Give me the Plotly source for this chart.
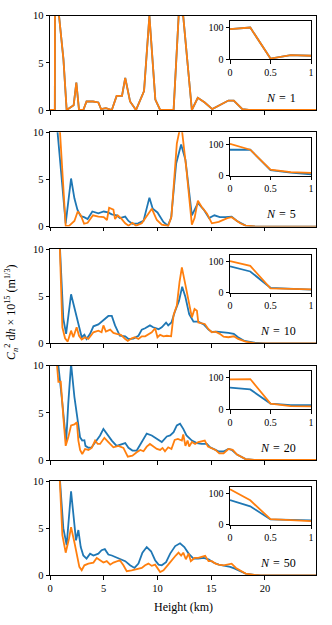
import plotly.graph_objects as go

# ---------------- data ----------------
# Panel N=1 (blue and orange overlap)
p1_x = [0, 0.45, 0.5, 0.75, 1.25, 1.55, 2.2, 2.45, 2.7, 3.1, 3.4, 4.0, 4.5, 4.75, 5.2, 5.75,
        6.2, 6.7, 7.0, 7.45, 8.0, 8.75, 9.25, 9.8, 10.25, 11.5, 12.0, 12.4, 13.2, 13.75, 14.4,
        15.1, 16.6, 17.1, 17.9, 18.5, 24.75]
p1_blue = [0, 0, 40, 11, 5.4, 0, 0.5, 2.9, 0, 0, 0.9, 0.9, 0.8, 0.1, 0.2, 0,
           1.5, 1.5, 3.4, 0.9, 0, 2.0, 10.0, 1.1, 0, 0, 10.6, 9.9, 0, 1.3, 0.8,
           0.1, 1.0, 1.0, 0.1, 0, 0]
p1_orange = [0, 0, 40, 11, 5.4, 0, 0.5, 2.9, 0, 0, 0.9, 0.9, 0.8, 0.1, 0.2, 0,
             1.5, 1.5, 3.4, 0.9, 0, 2.0, 10.0, 1.1, 0, 0, 10.6, 9.9, 0, 1.3, 0.8,
             0.1, 1.0, 1.0, 0.1, 0, 0]

# Panel N=5
p2_bx = [0.25, 0.5, 1.46, 1.96, 2.27, 2.55, 2.86, 3.17, 3.5, 3.94, 4.5, 5.0, 5.4, 5.75, 6.2, 6.5,
         7.0, 7.3, 7.67, 8.2, 8.7, 9.25, 9.56, 10.0, 10.55, 10.96, 11.27, 11.74, 12.2, 12.6, 13.2,
         13.76, 14.3, 14.8, 15.3, 15.8, 16.3, 16.9, 17.4, 18.2, 19.0, 24.75]
p2_blue = [20, 12.6, 0.35, 5.1, 3.0, 1.8, 1.1, 1.0, 0.8, 1.6, 1.4, 1.6, 1.5, 1.3, 1.2, 0.9,
           1.06, 0.6, 0.3, 0.35, 0.6, 3.07, 1.9, 1.5, 0.5, 0.1, 0.9, 6.7, 8.7, 7.1, 1.2,
           2.5, 1.8, 0.9, 1.2, 1.0, 1.0, 1.06, 0.6, 0.1, 0.02, 0]
p2_ox = [0.5, 0.75, 1.46, 1.77, 2.27, 2.58, 2.86, 3.17, 3.5, 4.0, 4.5, 5.0, 5.3, 5.5, 5.9, 6.05,
         6.3, 6.6, 7.0, 7.3, 7.67, 8.0, 8.54, 9.0, 9.47, 9.94, 10.4, 11.0, 11.3, 11.8, 12.2, 12.7,
         13.2, 13.45, 13.76, 14.1, 14.6, 15.06, 15.7, 16.5, 16.9, 17.7, 18.2, 19.0, 24.75]
p2_orange = [25, 13.4, 0.07, 0.07, 0.6, 1.6, 1.2, 0.3, 0.4, 1.2, 1.06, 1.0, 0.7, 2.0, 1.8, 0.8,
             1.2, 0.9, 0.35, 0.1, 0.4, 0.1, 0.35, 1.06, 1.9, 0.7, 0.2, 0.07, 1.06, 8.8, 11.0, 6.0,
             0.2, 0.9, 2.75, 2.1, 1.4, 0.35, 0.5, 0.9, 1.0, 0.35, 0.1, 0.02, 0]

# Panel N=10
p3_bx = [0.5, 0.75, 1.24, 1.5, 1.96, 2.27, 2.64, 2.95, 3.2, 3.4, 3.73, 4.04, 4.5, 5.0, 5.43, 5.75,
         6.05, 6.5, 7.0, 7.3, 7.76, 8.23, 8.54, 8.85, 9.3, 9.6, 10.1, 10.4, 10.8, 11.0, 11.3, 11.6,
         12.0, 12.3, 12.6, 12.95, 13.35, 13.8, 14.3, 14.75, 15.06, 15.5, 16.0, 16.6, 17.1, 17.5,
         18.1, 19.0, 20.0, 24.75]
p3_blue = [25, 14.4, 2.6, 1.0, 5.2, 3.8, 2.0, 0.64, 0.9, 0.46, 1.0, 1.8, 2.0, 2.5, 2.9, 2.9,
           1.9, 0.8, 0.74, 0.46, 0.5, 0.8, 1.45, 1.6, 1.9, 1.7, 1.5, 1.7, 2.2, 1.9, 2.2, 3.3,
           4.5, 6.0, 4.9, 3.1, 2.3, 2.3, 2.0, 1.45, 1.2, 1.24, 1.2, 1.1, 1.0, 0.64,
           0.25, 0.07, 0, 0]
p3_ox = [0.5, 0.75, 1.15, 1.4, 1.65, 1.96, 2.17, 2.48, 2.7, 2.95, 3.26, 3.57, 4.04, 4.5, 4.8, 4.97,
         5.2, 5.6, 5.9, 6.2, 6.6, 7.0, 7.24, 7.6, 7.9, 8.23, 8.54, 8.85, 9.16, 9.47, 9.78, 10.0,
         10.25, 10.56, 10.87, 11.27, 11.5, 11.8, 12.05, 12.27, 12.6, 12.9, 13.2, 13.45, 13.67,
         13.8, 14.1, 14.4, 14.75, 15.06, 15.4, 15.8, 16.15, 16.6, 17.1, 17.5, 18.2, 19.0, 24.75]
p3_orange = [25, 16, 1.7, 0.53, 0.18, 1.34, 0.64, 1.7, 0.8, 0.4, 0.64, 0.46, 1.17, 1.34, 1.17, 1.9,
             1.24, 1.45, 1.1, 1.0, 0.9, 0.46, 0.25, 0.53, 0.64, 0.46, 0.74, 0.74, 1.0, 1.17, 1.6, 0.64,
             0.9, 0.74, 0.8, 0.74, 3.0, 4.0, 6.5, 8.05, 6.2, 4.35, 2.75, 3.64, 3.46,
             2.2, 2.15, 2.05, 1.5, 1.17, 1.24, 1.0, 0.7, 0.64, 0.74, 0.46, 0.18, 0.02, 0]

# Panel N=20
p4_bx = [0.5, 0.78, 1.15, 1.5, 1.7, 1.96, 2.27, 2.55, 2.8, 3.0, 3.2, 3.3, 3.57, 3.88, 4.35, 4.66,
         4.97, 5.28, 5.75, 6.2, 6.5, 7.0, 7.3, 7.67, 8.07, 8.54, 9.0, 9.47, 9.94, 10.4, 10.87,
         11.18, 11.5, 11.8, 12.1, 12.4, 12.7, 13.2, 13.67, 14.1, 14.6, 14.9, 15.4, 15.7, 16.15,
         16.6, 16.9, 17.4, 17.9, 18.2, 19.0, 24.75]
p4_blue = [14, 10, 6.0, 1.9, 6.0, 10.2, 6.7, 4.55, 2.4, 2.06, 2.1, 1.5, 1.3, 1.35, 2.06, 2.6,
           3.3, 2.8, 2.06, 1.5, 1.6, 1.8, 1.3, 1.0, 1.0, 1.9, 2.8, 2.6, 2.24, 1.9, 2.5,
           2.6, 2.95, 3.67, 3.85, 3.3, 2.6, 2.06, 1.8, 1.7, 1.7, 1.35, 1.07, 0.9, 0.9,
           1.17, 1.07, 0.57, 0.28, 0.1, 0.02, 0]
p4_ox = [0.5, 0.62, 0.78, 1.0, 1.24, 1.46, 1.7, 1.96, 2.27, 2.5, 2.64, 2.8, 3.0, 3.26, 3.57, 3.88,
         4.2, 4.44, 4.66, 5.06, 5.43, 5.9, 6.37, 6.83, 7.24, 7.67, 8.07, 8.4, 8.7, 9.0, 9.3, 9.6,
         9.94, 10.25, 10.47, 10.7, 11.0, 11.3, 11.6, 11.9, 12.27, 12.4, 12.6, 12.8, 12.95, 13.2,
         13.5, 13.8, 14.1, 14.4, 14.7, 15.06, 15.4, 15.75, 16.15, 16.6, 17.0, 17.4, 17.9, 18.2,
         19.0, 24.75]
p4_orange = [14, 10.5, 8.3, 8.3, 4.55, 1.5, 2.4, 3.67, 3.77, 4.0, 2.06, 1.07, 0.64, 1.17, 1.07, 1.28,
             2.06, 1.7, 1.7, 2.35, 1.9, 1.35, 1.5, 1.28, 0.36, 0.46, 0.82, 1.07, 0.93, 1.42, 1.7, 1.42,
             1.17, 1.07, 1.28, 0.93, 1.35, 1.17, 2.13, 2.24, 2.06, 2.7, 1.5, 2.06, 1.42, 1.9,
             1.7, 1.9, 2.0, 2.06, 1.42, 1.28, 1.07, 0.7, 0.7, 1.17, 1.07, 0.57, 0.28, 0.1,
             0.02, 0]

# Panel N=50
p5_bx = [0.5, 0.75, 1.24, 1.55, 1.96, 2.17, 2.42, 2.64, 2.86, 3.1, 3.4, 3.73, 4.04, 4.5, 4.8, 5.1,
         5.43, 5.75, 6.05, 6.5, 7.0, 7.45, 7.86, 8.23, 8.6, 9.0, 9.4, 9.78, 10.1, 10.4, 10.8,
         11.18, 11.65, 12.1, 12.5, 12.9, 13.35, 13.8, 14.3, 14.75, 15.2, 15.7, 16.3, 16.77, 17.2,
         17.9, 18.2, 19.0, 19.6, 24.75]
p5_blue = [25, 13, 5.0, 3.2, 8.9, 6.4, 3.7, 4.8, 3.0, 2.1, 1.77, 2.3, 2.1, 2.3, 2.66, 2.77,
           2.2, 2.1, 1.95, 1.7, 1.5, 1.06, 0.78, 1.24, 2.4, 3.0, 2.55, 1.6, 1.13, 1.06, 1.4,
           2.3, 3.1, 3.4, 3.0, 2.3, 1.77, 1.77, 1.84, 1.7, 1.35, 1.13, 1.0, 0.9, 0.7,
           0.35, 0.18, 0.05, 0, 0]
p5_ox = [0.5, 0.75, 1.15, 1.46, 1.77, 1.96, 2.27, 2.55, 2.73, 2.95, 3.2, 3.57, 4.04, 4.35, 4.66,
         4.97, 5.28, 5.6, 5.9, 6.2, 6.5, 6.83, 7.14, 7.6, 8.07, 8.54, 8.85, 9.16, 9.47, 9.78,
         10.25, 10.56, 11.0, 11.3, 11.7, 11.96, 12.2, 12.4, 12.64, 12.9, 13.1, 13.45, 13.8, 14.1,
         14.44, 14.75, 15.06, 15.4, 15.7, 16.15, 16.6, 16.9, 17.3, 17.7, 18.2, 19.0, 19.6, 24.75]
p5_orange = [25, 14, 4.25, 2.4, 3.9, 5.1, 3.5, 2.1, 0.9, 0.53, 1.06, 1.24, 1.35, 1.84, 1.6,
             1.35, 1.5, 1.13, 1.35, 1.5, 1.6, 1.06, 0.43, 0.53, 0.64, 0.78, 1.06, 1.24, 1.0, 1.13,
             0.35, 0.53, 1.13, 1.6, 2.1, 2.4, 2.1, 2.4, 1.7, 2.3, 1.5, 1.84, 1.84, 1.95,
             2.06, 1.5, 1.5, 1.24, 1.13, 1.06, 1.13, 1.24, 0.78, 0.53, 0.18, 0.05, 0, 0]

# Insets
inset_x = [0, 0.25, 0.5, 0.75, 1.0]
inset_blue = {
    1: [96, 101, 2, 13, 11],
    5: [83, 83, 18, 10, 5],
    10: [83, 67, 15, 12, 9],
    20: [69, 63, 18, 13, 13],
    50: [78, 58, 16, 14, 13],
}
inset_orange = {
    1: [96, 101, 2, 13, 11],
    5: [102, 83, 20, 12, 9],
    10: [100, 85, 13, 11, 10],
    20: [95, 96, 18, 10, 9],
    50: [112, 77, 17, 15, 11],
}

panel_N = [1, 5, 10, 20, 50]
main_x_ticks = [0, 5, 10, 15, 20]
main_y_ticks = [0, 5, 10]
inset_x_ticks = [0, 0.5, 1]
inset_x_labels = ["0", "0.5", "1"]
inset_y_ticks = [0, 100]

panels = [
    (p1_x, p1_blue, p1_x, p1_orange),
    (p2_bx, p2_blue, p2_ox, p2_orange),
    (p3_bx, p3_blue, p3_ox, p3_orange),
    (p4_bx, p4_blue, p4_ox, p4_orange),
    (p5_bx, p5_blue, p5_ox, p5_orange),
]

# ---------------- layout geometry (pixels) ----------------
W, H = 332, 625
BLUE = "#1f77b4"
ORANGE = "#ff7f0e"
FONT = "Liberation Serif"

panel_tops = [15.7, 132.3, 249.0, 365.7, 481.0]
panel_h = 94.3
ax_left, ax_right = 50, 316
in_left, in_right = 230, 311
in_top_off, in_h = 5.5, 38

def py(px):
    return 1 - px / H

def pxx(px):
    return px / W

fig = go.Figure()
layout = dict(
    width=W, height=H, autosize=False,
    margin=dict(l=0, r=0, t=0, b=0, pad=0),
    paper_bgcolor="white", plot_bgcolor="white",
    showlegend=False,
    font=dict(family=FONT, size=10, color="black"),
)
annotations = []

common = dict(ticks="outside", ticklen=3.5, tickwidth=1, tickcolor="black",
              showline=True, linecolor="black", linewidth=1, mirror=True,
              showgrid=False, zeroline=False, automargin=False)

for i, (bx, by, ox, oy) in enumerate(panels):
    k = i + 1
    ki = k + 5
    top = panel_tops[i]
    xa = "x" if k == 1 else f"x{k}"
    ya = "y" if k == 1 else f"y{k}"
    fig.add_trace(go.Scatter(x=bx, y=by, mode="lines", line=dict(color=BLUE, width=1.8),
                             xaxis=xa, yaxis=ya))
    fig.add_trace(go.Scatter(x=ox, y=oy, mode="lines", line=dict(color=ORANGE, width=1.8),
                             xaxis=xa, yaxis=ya))
    layout[f"xaxis{k}"] = dict(
        domain=[pxx(ax_left), pxx(ax_right)], anchor=ya, range=[0, 24.75],
        tickvals=main_x_ticks, showticklabels=(k == 5),
        tickfont=dict(size=10.5, family=FONT), **common,
    )
    layout[f"yaxis{k}"] = dict(
        domain=[py(top + panel_h), py(top)], anchor=xa, range=[0, 10],
        tickvals=main_y_ticks, tickfont=dict(size=10.5, family=FONT), **common,
    )
    N = panel_N[i]
    fig.add_trace(go.Scatter(x=inset_x, y=inset_blue[N], mode="lines",
                             line=dict(color=BLUE, width=1.8),
                             xaxis=f"x{ki}", yaxis=f"y{ki}"))
    fig.add_trace(go.Scatter(x=inset_x, y=inset_orange[N], mode="lines",
                             line=dict(color=ORANGE, width=1.8),
                             xaxis=f"x{ki}", yaxis=f"y{ki}"))
    itop = top + in_top_off
    layout[f"xaxis{ki}"] = dict(
        domain=[pxx(in_left), pxx(in_right)], anchor=f"y{ki}", range=[0, 1],
        tickvals=inset_x_ticks, ticktext=inset_x_labels,
        tickfont=dict(size=10, family=FONT), **common,
    )
    layout[f"yaxis{ki}"] = dict(
        domain=[py(itop + in_h), py(itop)], anchor=f"x{ki}", range=[0, 121],
        tickvals=inset_y_ticks, tickfont=dict(size=10, family=FONT), **common,
    )
    annotations.append(dict(
        x=pxx(298), y=py(top + 82), xref="paper", yref="paper",
        text=f"<i>N</i>\u2004=\u2004{N}", showarrow=False, xanchor="right", yanchor="middle",
        font=dict(size=12, family=FONT),
    ))

annotations.append(dict(
    x=pxx(183), y=py(606.5), xref="paper", yref="paper", text="Height (km)",
    showarrow=False, xanchor="center", yanchor="middle", font=dict(size=12, family=FONT),
))
annotations.append(dict(
    x=pxx(11), y=py(312), xref="paper", yref="paper", textangle=-90,
    text="<i>C</i><sub><i>n</i></sub><sup>2</sup> d<i>h</i> × 10<sup>15</sup> (m<sup>1/3</sup>)",
    showarrow=False, xanchor="center", yanchor="middle", font=dict(size=12, family=FONT),
))
layout["annotations"] = annotations
fig.update_layout(**layout)
fig.write_html("out.html", config={"displayModeBar": False},
               post_script="document.body.style.margin='0';document.body.style.overflow='hidden';")
